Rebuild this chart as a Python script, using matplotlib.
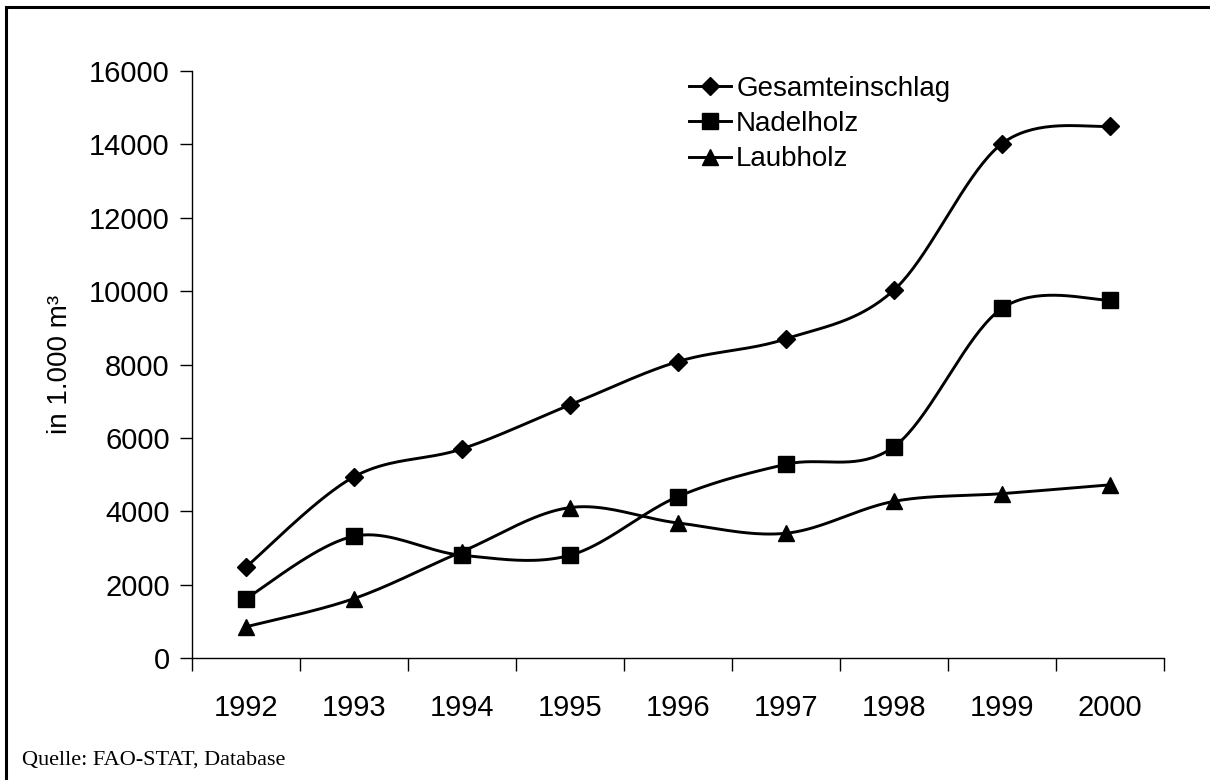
import matplotlib.pyplot as plt
import numpy as np
from matplotlib.patches import Rectangle

years = ["1992", "1993", "1994", "1995", "1996", "1997", "1998", "1999", "2000"]
gesamt = [2480, 4940, 5700, 6900, 8080, 8700, 10030, 14020, 14500]
nadel = [1620, 3320, 2800, 2800, 4400, 5280, 5760, 9530, 9760]
laub = [850, 1620, 2900, 4100, 3680, 3400, 4270, 4480, 4720]
y_ticks = [0, 2000, 4000, 6000, 8000, 10000, 12000, 14000, 16000]


def smooth(x, y, n=40):
    """Catmull-Rom style bezier smoothing (like Excel's smoothed lines)"""
    x = np.asarray(x, float)
    y = np.asarray(y, float)
    px = np.concatenate([[x[0]], x, [x[-1]]])
    py = np.concatenate([[y[0]], y, [y[-1]]])
    xs, ys = [], []
    t = np.linspace(0, 1, n)
    for i in range(1, len(px) - 2):
        p0 = np.array([px[i], py[i]])
        p3 = np.array([px[i + 1], py[i + 1]])
        p1 = p0 + (np.array([px[i + 1], py[i + 1]]) - np.array([px[i - 1], py[i - 1]])) / 6
        p2 = p3 - (np.array([px[i + 2], py[i + 2]]) - np.array([px[i], py[i]])) / 6
        b = ((1 - t) ** 3)[:, None] * p0 + (3 * (1 - t) ** 2 * t)[:, None] * p1 \
            + (3 * (1 - t) * t ** 2)[:, None] * p2 + (t ** 3)[:, None] * p3
        xs.extend(b[:, 0])
        ys.extend(b[:, 1])
    return xs, ys


plt.rcParams['font.family'] = ['Liberation Sans', 'DejaVu Sans']

fig = plt.figure(figsize=(12.1, 7.8), dpi=100)
ax = fig.add_axes([192 / 1210, 1 - 658 / 780, (1164 - 192) / 1210, (658 - 71) / 780])

x = np.arange(len(years))
series = [(gesamt, "D", 9.5, "Gesamteinschlag"),
          (nadel, "s", 12, "Nadelholz"),
          (laub, "^", 12, "Laubholz")]
for vals, mk, ms, name in series:
    sx, sy = smooth(x, vals)
    ax.plot(sx, sy, color="black", lw=2.1, zorder=2)
    ax.plot(x, vals, linestyle="none", marker=mk, ms=ms, color="black", zorder=3)

# legend handles: line + marker
handles = []
for vals, mk, ms, name in series:
    h, = ax.plot([], [], color="black", lw=2.1, marker=mk, ms=ms, label=name)
    handles.append(h)
fig.legend(handles=handles, loc="upper left", bbox_to_anchor=(689 / 1210, 1 - 76 / 780),
           frameon=False, fontsize=20, handlelength=1.5, handletextpad=0.2,
           labelspacing=0.33, borderpad=0, borderaxespad=0)

ax.set_xlim(-0.5, len(years) - 0.5)
ax.set_ylim(0, 16000)
ax.set_yticks(y_ticks)
ax.tick_params(axis="y", labelsize=21, length=9, width=1, pad=7)

# ticks between categories, labels at centers
ax.set_xticks(np.arange(-0.5, len(years)), minor=False)
ax.set_xticklabels([])
ax.set_xticks(x, minor=True)
ax.set_xticklabels(years, minor=True)
ax.tick_params(axis="x", which="major", length=9, width=1, direction="out")
ax.tick_params(axis="x", which="minor", length=0, labelsize=21, pad=26)

for s in ["top", "right"]:
    ax.spines[s].set_visible(False)
ax.spines["left"].set_linewidth(1)
ax.spines["bottom"].set_linewidth(1)

fig.text(60 / 1210, 1 - 364 / 780, "in 1.000 m³", rotation=90, fontsize=20,
         ha="center", va="center")
fig.text(22 / 1210, 1 - 760 / 780, "Quelle: FAO-STAT, Database", fontsize=16,
         family=["Liberation Serif", "DejaVu Serif"], ha="left", va="center")

fig.patches.append(Rectangle((6 / 1210, -0.1), 1.2, 1 - 7 / 780 + 0.1, transform=fig.transFigure,
                             fill=False, edgecolor="black", lw=2.2))

fig.savefig("out.png", dpi=100)
